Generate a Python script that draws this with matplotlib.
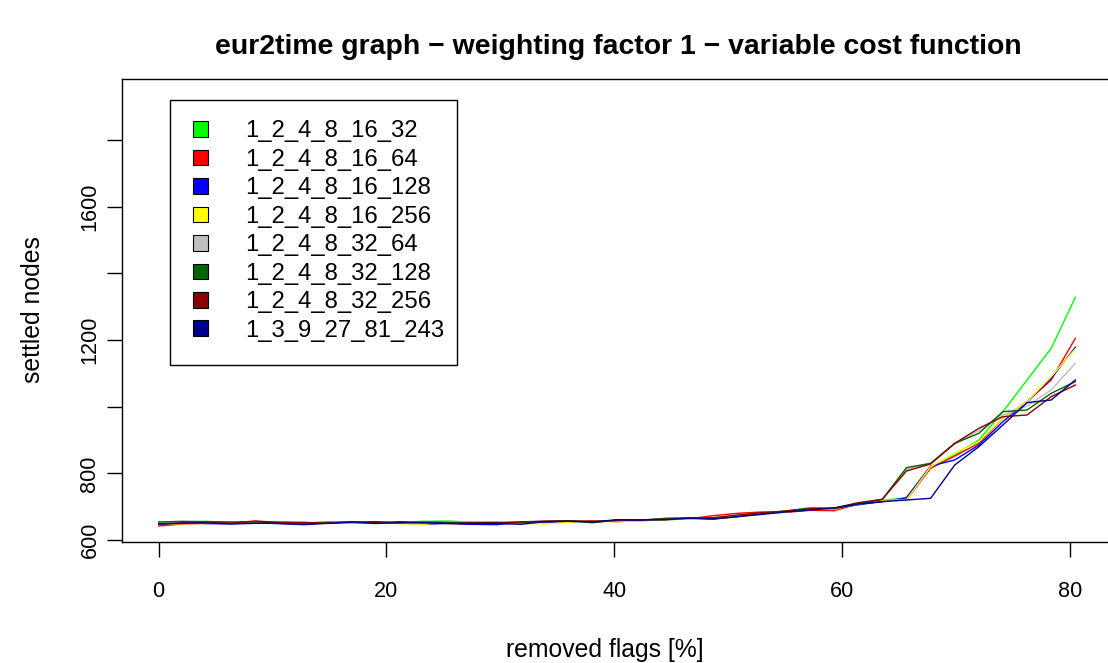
import matplotlib
matplotlib.use("Agg")
import matplotlib.pyplot as plt
from matplotlib.patches import Patch, Rectangle

plt.rcParams['font.family'] = ['Liberation Sans', 'DejaVu Sans']

# ---- data ----
removed_flags = [0.00, 2.12, 4.24, 6.36, 8.47, 10.59, 12.71, 14.83, 16.95, 19.07,
                 21.18, 23.30, 25.42, 27.54, 29.66, 31.78, 33.89, 36.01, 38.13, 40.25,
                 42.37, 44.49, 46.61, 48.72, 50.84, 52.96, 55.08, 57.20, 59.32, 61.43,
                 63.55, 65.67, 67.79, 69.91, 72.03, 74.14, 76.26, 78.38, 80.50]

s_1_2_4_8_16_32 = [653, 654, 656, 653, 652, 654, 652, 652, 653, 649, 654, 656, 657, 653, 652,
                   651, 654, 658, 654, 658, 661, 660, 664, 664, 673, 677, 687, 697, 695, 705,
                   720, 725, 820, 855, 900, 985, 1080, 1175, 1328]
s_1_2_4_8_16_64 = [642, 648, 650, 651, 657, 653, 651, 654, 652, 653, 652, 651, 650, 648, 652,
                   654, 655, 654, 658, 655, 658, 661, 664, 673, 680, 684, 683, 689, 688, 708,
                   720, 720, 815, 852, 890, 965, 1015, 1080, 1205]
s_1_2_4_8_16_128 = [650, 653, 649, 649, 652, 649, 647, 652, 653, 655, 651, 647, 650, 647, 646,
                    653, 652, 656, 652, 660, 659, 665, 666, 664, 673, 679, 685, 691, 695, 706,
                    715, 727, 822, 840, 885, 955, 1015, 1085, 1178]
s_1_2_4_8_16_256 = [647, 649, 650, 650, 652, 653, 651, 649, 653, 651, 649, 647, 654, 655, 655,
                    651, 648, 653, 656, 655, 658, 662, 663, 665, 669, 678, 684, 693, 692, 711,
                    720, 720, 820, 860, 895, 965, 1015, 1090, 1173]
s_1_2_4_8_32_64 = [652, 653, 652, 652, 651, 651, 652, 652, 653, 651, 653, 653, 652, 651, 651,
                   652, 655, 656, 655, 658, 661, 662, 664, 667, 672, 678, 685, 693, 695, 707,
                   722, 812, 830, 888, 928, 975, 1002, 1050, 1130]
s_1_2_4_8_32_128 = [654, 656, 655, 654, 654, 652, 650, 651, 654, 651, 651, 654, 653, 653, 653,
                    652, 655, 658, 653, 659, 660, 664, 665, 663, 670, 679, 687, 695, 694, 708,
                    722, 817, 830, 890, 920, 985, 990, 1040, 1075]
s_1_2_4_8_32_256 = [647, 651, 652, 651, 656, 653, 653, 650, 655, 651, 655, 652, 649, 651, 651,
                    654, 657, 657, 656, 658, 660, 662, 665, 667, 675, 682, 687, 694, 696, 712,
                    722, 807, 828, 890, 935, 970, 975, 1030, 1065]
s_1_3_9_27_81_243 = [648, 651, 651, 648, 650, 650, 646, 650, 653, 650, 652, 652, 650, 649, 650,
                     647, 655, 656, 654, 661, 660, 661, 666, 663, 670, 677, 684, 690, 696, 708,
                     715, 720, 725, 825, 880, 945, 1012, 1020, 1080]

series_labels = ["1_2_4_8_16_32", "1_2_4_8_16_64", "1_2_4_8_16_128", "1_2_4_8_16_256",
                 "1_2_4_8_32_64", "1_2_4_8_32_128", "1_2_4_8_32_256", "1_3_9_27_81_243"]
series_values = [s_1_2_4_8_16_32, s_1_2_4_8_16_64, s_1_2_4_8_16_128, s_1_2_4_8_16_256,
                 s_1_2_4_8_32_64, s_1_2_4_8_32_128, s_1_2_4_8_32_256, s_1_3_9_27_81_243]
series_colors = ["#00FF00", "#FF0000", "#0000FF", "#FFFF00",
                 "#BEBEBE", "#006400", "#8B0000", "#00008B"]

x_ticks = [0, 20, 40, 60, 80]
y_ticks = [600, 800, 1000, 1200, 1400, 1600, 1800]
y_tick_labels = ["600", "800", "", "1200", "", "1600", ""]

title = "eur2time graph \u2212 weighting factor 1 \u2212 variable cost function"
xlabel = "removed flags [%]"
ylabel = "settled nodes"

# ---- figure ----
W, H = 1108, 663
fig = plt.figure(figsize=(W / 100, H / 100), dpi=100)
L, R, T, B = 122, 1112, 79.3, 542
ax = fig.add_axes([L / W, (H - B) / H, (R - L) / W, (B - T) / H])

for vals, col in zip(series_values, series_colors):
    ax.plot(removed_flags, vals, color=col, lw=1.0, solid_joinstyle='miter')

ax.set_xlim(-3.22, 83.72)
ax.set_ylim(594, 1982)
ax.set_xticks(x_ticks)
ax.set_xticklabels([str(t) for t in x_ticks])
ax.set_yticks(y_ticks)
ax.set_yticklabels(y_tick_labels, rotation=90, va='center')

fs_tick = 15.6
fs_lab = 17.8
fs_leg = 17.2
ax.tick_params(axis='both', direction='out', length=10.5, width=1.0, labelsize=fs_tick, color='black')
ax.tick_params(axis='x', pad=17.5)
ax.tick_params(axis='y', pad=5)
for sp in ax.spines.values():
    sp.set_linewidth(1.0)
    sp.set_color('black')

fig.text(618 / W, 1 - 46.5 / H, title, ha='center', va='center', fontsize=20.4, fontweight='bold')
fig.text(605 / W, 1 - 650 / H, xlabel, ha='center', va='center', fontsize=fs_lab)
fig.text(33 / W, 1 - 310 / H, ylabel, ha='center', va='center', fontsize=fs_lab, rotation=90)

# legend
fpx = fs_leg / 0.72
handles = [Patch(facecolor=c, edgecolor='black', lw=0.8) for c in series_colors]
leg = ax.legend(handles, series_labels, loc='upper left',
                bbox_to_anchor=(193 / W, 1 - 120.5 / H), bbox_transform=fig.transFigure,
                frameon=False, fontsize=fs_leg, borderpad=0, borderaxespad=0,
                handlelength=15 / fpx, handleheight=15 / fpx, handletextpad=37 / fpx,
                labelspacing=0.27)
fig.add_artist(Rectangle((170 / W, 1 - 365 / H), 287 / W, 265 / H, transform=fig.transFigure,
                         fill=False, lw=1.0, ec='black'))

fig.savefig("out.png", dpi=100)
